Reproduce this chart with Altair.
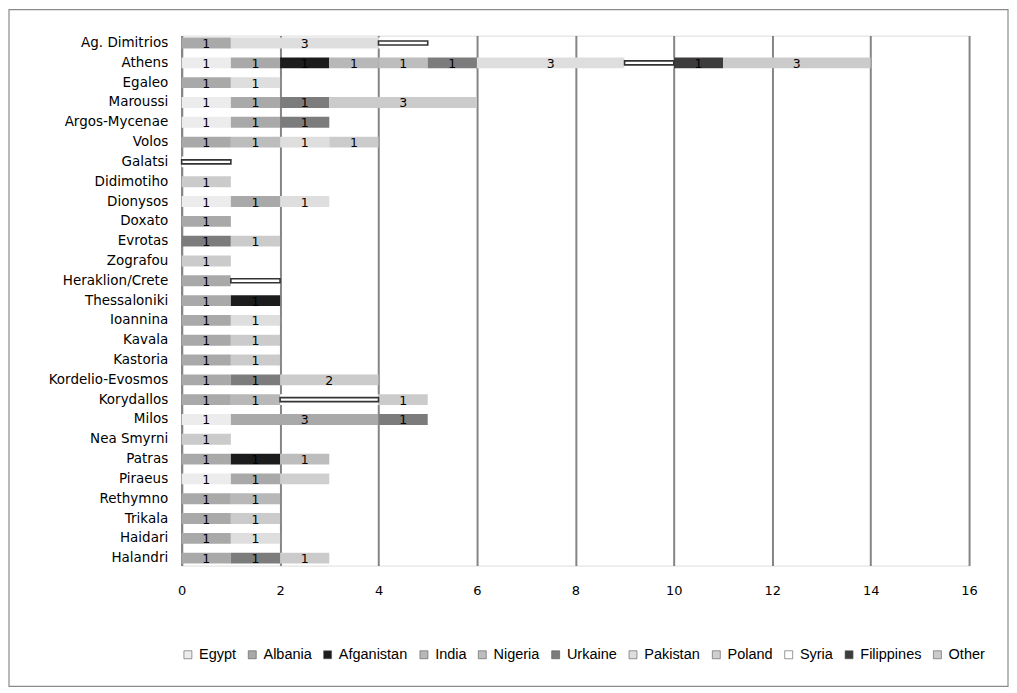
import altair as alt
import pandas as pd

cities = ["Ag. Dimitrios", "Athens", "Egaleo", "Maroussi", "Argos-Mycenae", "Volos",
          "Galatsi", "Didimotiho", "Dionysos", "Doxato", "Evrotas", "Zografou",
          "Heraklion/Crete", "Thessaloniki", "Ioannina", "Kavala", "Kastoria",
          "Kordelio-Evosmos", "Korydallos", "Milos", "Nea Smyrni", "Patras",
          "Piraeus", "Rethymno", "Trikala", "Haidari", "Halandri"]

series = ["Egypt", "Albania", "Afganistan", "India", "Nigeria", "Urkaine",
          "Pakistan", "Poland", "Syria", "Filippines", "Other"]

#            AgD Ath Ega Mar Arg Vol Gal Did Dio Dox Evr Zog Her The Ioa Kav Kas Kor Kry Mil Nea Pat Pir Ret Tri Hai Hal
egypt      = [0,  1,  0,  1,  1,  0,  0,  0,  1,  0,  0,  0,  0,  0,  0,  0,  0,  0,  0,  1,  0,  0,  1,  0,  0,  0,  0]
albania    = [1,  1,  1,  1,  1,  1,  0,  0,  1,  1,  0,  0,  1,  1,  1,  1,  1,  1,  1,  3,  0,  1,  1,  1,  1,  1,  1]
afganistan = [0,  1,  0,  0,  0,  0,  0,  0,  0,  0,  0,  0,  0,  1,  0,  0,  0,  0,  0,  0,  0,  1,  0,  0,  0,  0,  0]
india      = [0,  1,  0,  0,  0,  0,  0,  0,  0,  0,  0,  0,  0,  0,  0,  0,  0,  0,  1,  0,  0,  0,  0,  1,  0,  0,  0]
nigeria    = [0,  1,  0,  0,  0,  1,  0,  0,  0,  0,  0,  0,  0,  0,  0,  0,  0,  0,  0,  0,  0,  1,  0,  0,  0,  0,  0]
urkaine    = [0,  1,  0,  1,  1,  0,  0,  0,  0,  0,  1,  0,  0,  0,  0,  0,  0,  1,  0,  1,  0,  0,  0,  0,  0,  0,  1]
pakistan   = [3,  3,  1,  0,  0,  1,  0,  0,  1,  0,  0,  0,  0,  0,  1,  0,  0,  0,  0,  0,  0,  0,  0,  0,  0,  1,  0]
poland     = [0,  0,  0,  0,  0,  0,  0,  0,  0,  0,  0,  0,  0,  0,  0,  0,  0,  0,  0,  0,  0,  0,  1,  0,  0,  0,  0]
syria      = [1,  1,  0,  0,  0,  0,  1,  0,  0,  0,  0,  0,  1,  0,  0,  0,  0,  0,  2,  0,  0,  0,  0,  0,  0,  0,  0]
filippines = [0,  1,  0,  0,  0,  0,  0,  0,  0,  0,  0,  0,  0,  0,  0,  0,  0,  0,  0,  0,  0,  0,  0,  0,  0,  0,  0]
other      = [0,  3,  0,  3,  0,  1,  0,  1,  0,  0,  1,  1,  0,  0,  0,  1,  1,  2,  1,  0,  1,  0,  0,  0,  1,  0,  1]

values = {"Egypt": egypt, "Albania": albania, "Afganistan": afganistan, "India": india,
          "Nigeria": nigeria, "Urkaine": urkaine, "Pakistan": pakistan, "Poland": poland,
          "Syria": syria, "Filippines": filippines, "Other": other}

rows = []
for si, s in enumerate(series):
    for ci, c in enumerate(cities):
        v = values[s][ci]
        if v:
            rows.append({"city": c, "series": s, "idx": si, "value": v})
df = pd.DataFrame(rows)

fills = ["#ececec", "#a9a9a9", "#1c1c1c", "#b8b8b8", "#bdbdbd", "#7c7c7c",
         "#dedede", "#cfcfcf", "#ffffff", "#3c3c3c", "#cbcbcb"]

FONT = "DejaVu Sans"

base = alt.Chart(df).transform_stack(
    stack="value", groupby=["city"],
    sort=[alt.SortField("idx", order="ascending")],
    as_=["x0", "x1"]
).transform_calculate(mid="(datum.x0 + datum.x1) / 2")

yenc = alt.Y("city:N", sort=cities, title=None,
             scale=alt.Scale(paddingInner=0.45, paddingOuter=0.1),
             axis=alt.Axis(ticks=False, labelPadding=14, labelFontSize=13.5, labelFont=FONT,
                           labelColor="#000000", domainColor="#858585", domainWidth=2,
                           grid=False))

xenc = alt.X("x0:Q", title=None, scale=alt.Scale(domain=[0, 16], nice=False),
             axis=alt.Axis(values=list(range(0, 17, 2)), grid=True, gridColor="#858585",
                           gridWidth=2, domain=False, ticks=False, labelPadding=19,
                           labelFlush=False,
                           labelFontSize=13, labelFont=FONT, labelColor="#000000"))

bars = base.mark_bar(strokeWidth=0).encode(
    x=xenc, x2="x1:Q", y=yenc,
    color=alt.Color("series:N", sort=series,
                    scale=alt.Scale(domain=series, range=fills),
                    legend=alt.Legend(title=None, orient="none", direction="horizontal",
                                      columns=11, legendX=-1, legendY=613,
                                      symbolType="square", symbolSize=64,
                                      symbolStrokeColor="#555555", symbolStrokeWidth=0.6,
                                      labelFontSize=14.5, labelFont="Liberation Sans",
                                      labelColor="#000000", labelOffset=4,
                                      columnPadding=8.5)),
    order=alt.Order("idx:Q")
)

syria_lines = base.transform_filter("datum.series == 'Syria'").mark_bar(
    size=4, fill="#ffffff", stroke="#333333", strokeWidth=1.6
).encode(x=alt.X("x0:Q"), x2="x1:Q", y=alt.Y("city:N", sort=cities))

labels = base.transform_filter(
    "datum.series != 'Syria' && datum.series != 'Poland'"
).mark_text(fontSize=12.5, font=FONT, color="#000000", baseline="middle", dy=1).encode(
    x=alt.X("mid:Q"), y=alt.Y("city:N", sort=cities), text=alt.Text("value:Q")
)

frame = alt.Chart(pd.DataFrame({"f": [0]})).mark_rect(
    fillOpacity=0, stroke="#8a8a8a", strokeWidth=1.2
).encode(x=alt.value(-173), x2=alt.value(828), y=alt.value(-26), y2=alt.value(652))

chart = alt.layer(frame, bars, syria_lines, labels).properties(
    width=789, height=531, padding=0
).configure_view(stroke=None).configure(background="#ffffff")

chart.save("out.html", embed_options={"renderer": "svg", "actions": False})
